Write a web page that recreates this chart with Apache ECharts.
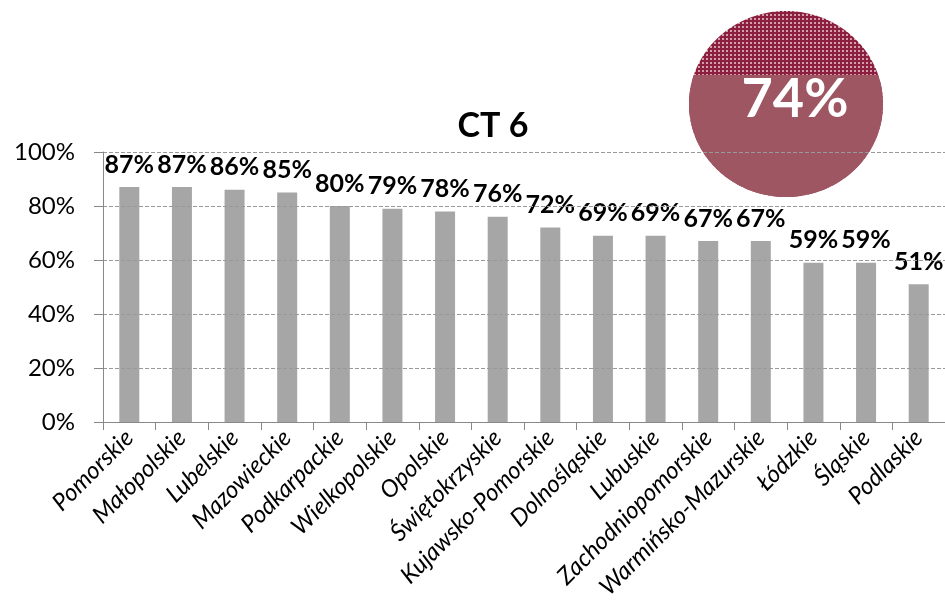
<!DOCTYPE html>
<html>
<head>
<meta charset="utf-8">
<script src="https://cdn.jsdelivr.net/npm/echarts@6/dist/echarts.min.js"></script>
<style>
  html, body { margin: 0; padding: 0; background: #fff; }
  #chart { width: 945px; height: 603px; }
</style>
</head>
<body>
<div id="chart"></div>
<script>
const regions = [
  'Pomorskie', 'Małopolskie', 'Lubelskie', 'Mazowieckie', 'Podkarpackie',
  'Wielkopolskie', 'Opolskie', 'Świętokrzyskie', 'Kujawsko-Pomorskie',
  'Dolnośląskie', 'Lubuskie', 'Zachodniopomorskie', 'Warmińsko-Mazurskie',
  'Łódzkie', 'Śląskie', 'Podlaskie'
]
const shares = [87, 87, 86, 85, 80, 79, 78, 76, 72, 69, 69, 67, 67, 59, 59, 51]
const overall = 74
const chartTitle = 'CT 6'

const FONT = 'Lato, "Open Sans", sans-serif'

// crosshatch fill for the top of the badge
function hatchPattern() {
  const c = document.createElement('canvas')
  c.width = 4
  c.height = 4
  const ctx = c.getContext('2d')
  ctx.fillStyle = '#d3a0aa'
  ctx.fillRect(0, 0, 4, 4)
  ctx.fillStyle = '#8c1f40'
  ctx.fillRect(0, 0, 4, 2)
  ctx.fillRect(0, 0, 2, 4)
  return { image: c, repeat: 'repeat' }
}

// badge geometry
const cx = 786, cy = 104, rx = 97, ry = 93, cutY = 75
function lowerSegment() {
  const pts = []
  const t0 = Math.asin((cutY - cy) / ry)
  const t1 = Math.PI - t0
  for (let i = 0; i <= 80; i++) {
    const t = t0 + (t1 - t0) * i / 80
    pts.push([cx + rx * Math.cos(t), cy + ry * Math.sin(t)])
  }
  return pts
}

const chart = echarts.init(document.getElementById('chart'))
chart.setOption({
  animation: false,
  title: {
    text: chartTitle,
    left: 488,
    top: 104,
    textAlign: 'center',
    textStyle: { fontFamily: FONT, fontSize: 34, fontWeight: 'bold', color: '#000' }
  },
  grid: { left: 103, right: 0, top: 152, bottom: 181, containLabel: false },
  xAxis: {
    type: 'category',
    data: regions,
    z: 5,
    axisLine: { lineStyle: { color: '#888', width: 1 } },
    axisTick: { show: true, length: 8, lineStyle: { color: '#888' } },
    axisLabel: {
      rotate: 45,
      interval: 0,
      margin: 12,
      fontFamily: FONT,
      fontSize: 24,
      fontStyle: 'italic',
      color: '#000'
    }
  },
  yAxis: {
    type: 'value',
    min: 0,
    max: 100,
    interval: 20,
    z: 5,
    axisLine: { show: true, lineStyle: { color: '#888' } },
    axisTick: { show: true, length: 9, lineStyle: { color: '#888' } },
    axisLabel: {
      formatter: '{value}%',
      margin: 28,
      fontFamily: FONT,
      fontSize: 24,
      color: '#000'
    },
    splitLine: { lineStyle: { color: '#999', type: [4, 2] } }
  },
  series: [{
    type: 'bar',
    data: shares,
    barWidth: 20,
    itemStyle: { color: '#a6a6a6' },
    label: {
      show: true,
      position: 'top',
      distance: 10,
      formatter: '{c}%',
      fontFamily: FONT,
      fontSize: 25,
      fontWeight: 'bold',
      color: '#000'
    }
  }],
  graphic: {
    elements: [
      {
        type: 'ellipse',
        shape: { cx: cx, cy: cy, rx: rx, ry: ry },
        style: { fill: hatchPattern() },
        z: 0
      },
      {
        type: 'polygon',
        shape: { points: lowerSegment() },
        style: { fill: '#9e5762' },
        z: 0
      },
      {
        type: 'text',
        x: 795,
        y: 100,
        style: {
          text: overall + '%',
          fill: '#fff',
          font: 'bold 54px ' + FONT,
          textAlign: 'center',
          textVerticalAlign: 'middle'
        },
        z: 0
      }
    ]
  }
})
</script>
</body>
</html>
